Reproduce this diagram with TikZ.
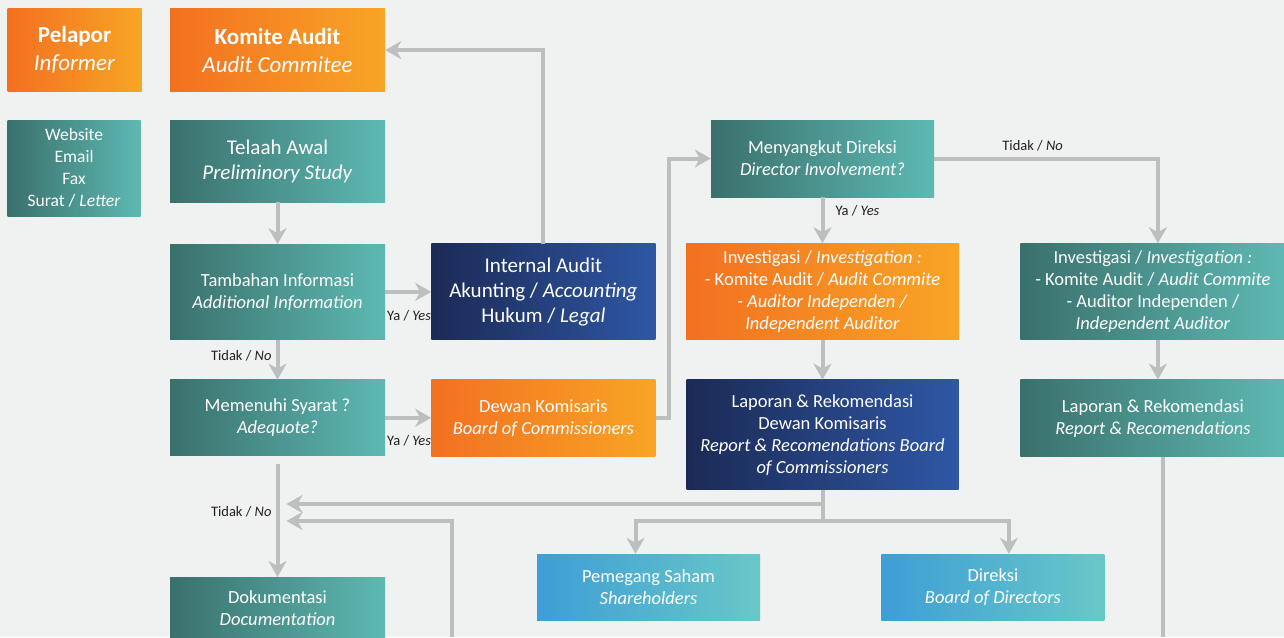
\documentclass[tikz,border=0pt]{standalone}
\usepackage{fontspec}
\setmainfont{Carlito}
\usetikzlibrary{positioning,arrows.meta}

\definecolor{latar}{HTML}{F0F1F1}
\definecolor{garis}{HTML}{BDBEC0}
\definecolor{teks}{HTML}{231F20}
\definecolor{oranye1}{HTML}{F37021}
\definecolor{oranye2}{HTML}{F8A525}
\definecolor{hijau1}{HTML}{3A706C}
\definecolor{hijau2}{HTML}{5EB9B3}
\definecolor{biru1}{HTML}{1B2A55}
\definecolor{biru2}{HTML}{2F57A5}
\definecolor{langit1}{HTML}{3E9ED6}
\definecolor{langit2}{HTML}{68C8C7}

\begin{document}
\begin{tikzpicture}[x=1pt, y=-1pt,
	kotak/.style={rectangle, inner sep=0pt, text=white, align=center, font=\fontsize{18.5}{22}\selectfont},
	oranye/.style={kotak, left color=oranye1, right color=oranye2},
	hijau/.style={kotak, left color=hijau1, right color=hijau2},
	biru/.style={kotak, left color=biru1, right color=biru2},
	langit/.style={kotak, left color=langit1, right color=langit2},
	garisan/.style={draw=garis, line width=4pt},
	panah/.style={garisan, -{Stealth[length=16pt, width=18pt, inset=5pt]}},
	ket/.style={inner sep=0pt, text=teks, font=\fontsize{14.5}{17}\selectfont}]
	
	\path[use as bounding box, fill=latar] (0,0) rectangle (1284,637);
	
	\node[hijau, minimum width=215pt, minimum height=82pt, font=\fontsize{21}{25}\selectfont] (telaah) at (277.5,161) {Telaah Awal\\\textit{Preliminory Study}};
	\node[oranye, above=28pt of telaah, minimum width=215pt, minimum height=83pt, font=\fontsize{23}{28}\selectfont] (komite) {\textbf{Komite Audit}\\\textit{Audit Commitee}};
	\node[oranye, left=28pt of komite, minimum width=134pt, minimum height=83pt, font=\fontsize{23}{28}\selectfont] (pelapor) {\textbf{Pelapor}\\\textit{Informer}};
	\node[hijau, left=29pt of telaah.north west, anchor=north east, minimum width=133pt, minimum height=96pt, font=\fontsize{17.5}{22}\selectfont] (sumber) {Website\\Email\\Fax\\Surat / \textit{Letter}};
	
	\node[hijau, below=42pt of telaah, minimum width=215pt, minimum height=95pt] (tambahan) {Tambahan Informasi\\\textit{Additional Information}};
	\node[hijau, below=40pt of tambahan, minimum width=215pt, minimum height=76pt] (memenuhi) {Memenuhi Syarat ?\\\textit{Adequote?}};
	\node[hijau, below=121pt of memenuhi, minimum width=215pt, minimum height=61pt] (dokumentasi) {Dokumentasi\\\textit{Documentation}};
	
	\node[biru, right=46pt of tambahan, minimum width=224pt, minimum height=96pt, font=\fontsize{21}{25}\selectfont] (internal) {Internal Audit\\Akunting / \textit{Accounting}\\Hukum / \textit{Legal}};
	\node[oranye, right=46pt of memenuhi, minimum width=224pt, minimum height=77pt] (dewan) {Dewan Komisaris\\\textit{Board of Commissioners}};
	
	\node[hijau, minimum width=223pt, minimum height=77pt] (menyangkut) at (822.5,158.5) {Menyangkut Direksi\\\textit{Director Involvement?}};
	\node[oranye, below=46pt of menyangkut, minimum width=273pt, minimum height=96pt] (invoranye) {Investigasi / \textit{Investigation :}\\- Komite Audit / \textit{Audit Commite}\\\textit{- Auditor Independen /}\\\textit{Independent Auditor}};
	\node[biru, below=40pt of invoranye, minimum width=272pt, minimum height=110pt] (laporandewan) {Laporan \& Rekomendasi\\Dewan Komisaris\\\textit{Report \& Recomendations Board}\\\textit{of Commissioners}};
	\node[hijau, right=61pt of invoranye, minimum width=265pt, minimum height=96pt] (invhijau) {Investigasi / \textit{Investigation :}\\- Komite Audit / \textit{Audit Commite}\\- Auditor Independen /\\\textit{Independent Auditor}};
	\node[hijau, below=40pt of invhijau, minimum width=265pt, minimum height=77pt] (laporankanan) {Laporan \& Rekomendasi\\\textit{Report \& Recomendations}};
	
	\node[langit, minimum width=223pt, minimum height=66pt] (pemegang) at (648.5,587) {Pemegang Saham\\\textit{Shareholders}};
	\node[langit, right=121pt of pemegang, minimum width=223pt, minimum height=66pt] (direksi) {Direksi\\\textit{Board of Directors}};
	
	\coordinate[above=73pt of dokumentasi.north, xshift=9pt] (masuk1);
	\coordinate[above=56pt of dokumentasi.north, xshift=9pt] (masuk2);
	\coordinate (bawah) at (452,637);
	
	\draw[panah] (telaah) -- (tambahan);
	\draw[panah] (tambahan.east) -- (internal.west);
	\node[ket, anchor=east] (ya1) at ([yshift=-24pt]internal.west) {Ya / \textit{Yes}};
	\draw[panah] (internal.north) |- (komite.east);
	\draw[panah] (tambahan) -- node[ket, left=4pt, pos=0.4] (tidak1) {Tidak / \textit{No}} (memenuhi);
	\draw[panah] (memenuhi.east) -- (dewan.west);
	\node[ket, anchor=east] (ya2) at ([yshift=-23pt]dewan.west) {Ya / \textit{Yes}};
	\draw[panah] (dewan.east) -- ++(13,0) |- (menyangkut.west);
	\draw[panah] (menyangkut.east) -| node[ket, above=5pt, pos=0.22] (tidak2) {Tidak / \textit{No}} ([xshift=5pt]invhijau.north);
	\draw[panah] (menyangkut) -- node[ket, right=11pt, pos=0.3] (ya3) {Ya / \textit{Yes}} (invoranye);
	\draw[panah] (invoranye) -- (laporandewan);
	\draw[panah] ([xshift=5pt]invhijau.south) -- ([xshift=5pt]laporankanan.north);
	\draw[panah] ([yshift=-8pt]memenuhi.south) -- node[ket, left=4pt, pos=0.42] (tidak3) {Tidak / \textit{No}} (dokumentasi);
	
	\draw[panah] (laporandewan.south) |- (masuk1);
	\draw[garisan] (laporandewan.south) -- ++(0,31) coordinate (cabang);
	\draw[panah] (cabang) -| ([xshift=-13pt]pemegang.north);
	\draw[panah] (cabang) -| ([xshift=16pt]direksi.north);
	\draw[panah] (bawah) |- (masuk2);
	\draw[garisan] ([xshift=10pt]laporankanan.south) -- ([xshift=10pt]laporankanan.south |- bawah);
\end{tikzpicture}
\end{document}
